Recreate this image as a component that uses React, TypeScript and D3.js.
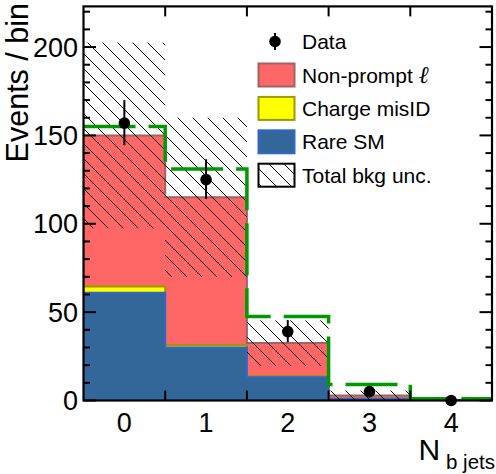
import React from "react";
import * as d3 from "d3";

const categories = [0, 1, 2, 3, 4];
const rareSM = [61, 30, 13.2, 1.0, 0.1];
const chargeMisID = [3.5, 1.2, 0.5, 0.1, 0.0];
const nonPrompt = [85.5, 83.8, 18.8, 1.7, 0.2];
const bkgUnc = [52.5, 45, 12.8, 2.8, 0.3];
const signal = [155, 131, 47.6, 9, 1];
const dataCounts = [157, 125, 39, 5, 0];
const dataErrUp = [13, 11.5, 6.5, 2.5, 0];
const dataErrDown = [12.5, 11, 6, 2.2, 0];
const yTicks = [0, 50, 100, 150, 200];
const xTickLabels = ["0", "1", "2", "3", "4"];

const W = 496;
const H = 474;
const L = 83.5, R = 492, T = 6.4, B = 400.5;
const FONT = "'Liberation Sans', Arial, Helvetica, sans-serif";

const RED = "#ff6666", RED_LINE = "#a06262";
const YEL = "#ffff00", YEL_LINE = "#999900";
const BLUE = "#336699", BLUE_LINE = "#3366cc";
const GREEN = "#009a00";

export default function App() {
  const x = d3.scaleLinear().domain([-0.5, 4.5]).range([L, R]);
  const y = d3.scaleLinear().domain([0, 223]).range([B, T]);

  const cumRare = rareSM;
  const cumCharge = rareSM.map((v, i) => v + chargeMisID[i]);
  const cumTotal = cumCharge.map((v, i) => v + nonPrompt[i]);

  const stepPoly = (vals: number[]) => {
    let d = `M${x(-0.5)},${y(0)}`;
    categories.forEach((c, i) => {
      d += `L${x(c - 0.5)},${y(vals[i])}L${x(c + 0.5)},${y(vals[i])}`;
    });
    d += `L${x(4.5)},${y(0)}Z`;
    return d;
  };

  let sigPath = "";
  categories.forEach((c, i) => {
    if (i === 0) sigPath += `M${x(c - 0.5)},${y(signal[i])}`;
    else sigPath += `V${y(signal[i])}`;
    sigPath += `H${x(c + 0.5)}`;
  });

  const minor = d3.range(0, 224, 10);
  const edges = [0.5, 1.5, 2.5, 3.5];

  const rows = [41.5, 75, 108.4, 141.8, 175.2];
  const boxX = 258.5, boxW = 36, boxH = 23, textX = 302;

  return (
    <svg width={W} height={H} style={{ position: "absolute", left: 0, top: 0, background: "#fff" }} fontFamily={FONT}>
      <defs>
        <pattern id="hatch" patternUnits="userSpaceOnUse" width={15} height={15}>
          <line x1={0} y1={0} x2={15} y2={15} stroke="#000" strokeWidth={1} />
          <line x1={-2} y1={13} x2={2} y2={17} stroke="#000" strokeWidth={1} />
          <line x1={13} y1={-2} x2={17} y2={2} stroke="#000" strokeWidth={1} />
        </pattern>
        <clipPath id="frame">
          <rect x={L} y={T} width={R - L} height={B - T} />
        </clipPath>
      </defs>
      <rect x={0} y={0} width={W} height={H} fill="#fff" />

      <g clipPath="url(#frame)">
        <path d={stepPoly(cumTotal)} fill={RED} stroke={RED_LINE} strokeWidth={2} />
        <path d={stepPoly(cumCharge)} fill={YEL} stroke={YEL_LINE} strokeWidth={2} />
        <path d={stepPoly(cumRare)} fill={BLUE} stroke={BLUE_LINE} strokeWidth={2} />
        {categories.map((c, i) => (
          <rect
            key={"h" + i}
            x={x(c - 0.5)}
            width={x(c + 0.5) - x(c - 0.5)}
            y={y(cumTotal[i] + bkgUnc[i])}
            height={y(Math.max(0, cumTotal[i] - bkgUnc[i])) - y(cumTotal[i] + bkgUnc[i])}
            fill="url(#hatch)"
          />
        ))}
        <path d={sigPath} fill="none" stroke={GREEN} strokeWidth={3.5} strokeDasharray="52 13" />
      </g>

      {categories.map((c, i) => (
        <g key={"d" + i}>
          {dataErrUp[i] + dataErrDown[i] > 0 && (
            <line x1={x(c)} x2={x(c)} y1={y(dataCounts[i] + dataErrUp[i])} y2={y(dataCounts[i] - dataErrDown[i])} stroke="#000" strokeWidth={2} />
          )}
          <circle cx={x(c)} cy={y(dataCounts[i])} r={5.8} fill="#000" />
        </g>
      ))}

      {/* frame and ticks */}
      <rect x={L} y={T} width={R - L} height={B - T} fill="none" stroke="#000" strokeWidth={2.2} />
      {minor.map((v) => {
        const len = v % 50 === 0 ? 12.5 : 6.5;
        return (
          <g key={"t" + v}>
            <line x1={L} x2={L + len} y1={y(v)} y2={y(v)} stroke="#000" strokeWidth={2} />
            <line x1={R} x2={R - len} y1={y(v)} y2={y(v)} stroke="#000" strokeWidth={2} />
          </g>
        );
      })}
      {edges.map((e) => (
        <g key={"e" + e}>
          <line x1={x(e)} x2={x(e)} y1={B} y2={B - 10} stroke="#000" strokeWidth={2} />
          <line x1={x(e)} x2={x(e)} y1={T} y2={T + 10} stroke="#000" strokeWidth={2} />
        </g>
      ))}
      {yTicks.map((v) => (
        <text key={"yl" + v} x={78} y={y(v) + 9.7} textAnchor="end" fontSize={27}>{v}</text>
      ))}
      {categories.map((c, i) => (
        <text key={"xl" + c} x={x(c)} y={431.5} textAnchor="middle" fontSize={27}>{xTickLabels[i]}</text>
      ))}

      <text transform="translate(28,3) rotate(-90)" textAnchor="end" fontSize={30.5}>Events / bin</text>
      <text x={418.5} y={460} fontSize={30}>N</text>
      <text x={446} y={469} fontSize={20.5}>b jets</text>

      {/* legend */}
      <line x1={275} x2={275} y1={rows[0] - 8.5} y2={rows[0] + 8.5} stroke="#000" strokeWidth={2} />
      <circle cx={275} cy={rows[0]} r={5.8} fill="#000" />
      <text x={textX} y={rows[0] + 7.5} fontSize={21}>Data</text>

      <rect x={boxX} y={rows[1] - boxH / 2} width={boxW} height={boxH} fill={RED} stroke={RED_LINE} strokeWidth={2} />
      <text x={textX} y={rows[1] + 7.5} fontSize={21}>Non-prompt <tspan fontStyle="italic" fontSize={24} fontFamily="'DejaVu Serif', serif">ℓ</tspan></text>

      <rect x={boxX} y={rows[2] - boxH / 2} width={boxW} height={boxH} fill={YEL} stroke={YEL_LINE} strokeWidth={2} />
      <text x={textX} y={rows[2] + 7.5} fontSize={21}>Charge misID</text>

      <rect x={boxX} y={rows[3] - boxH / 2} width={boxW} height={boxH} fill={BLUE} stroke={BLUE_LINE} strokeWidth={2} />
      <text x={textX} y={rows[3] + 7.5} fontSize={21}>Rare SM</text>

      <rect x={boxX} y={rows[4] - boxH / 2} width={boxW} height={boxH} fill="url(#hatch)" stroke="#000" strokeWidth={2} />
      <text x={textX} y={rows[4] + 7.5} fontSize={21}>Total bkg unc.</text>
    </svg>
  );
}
